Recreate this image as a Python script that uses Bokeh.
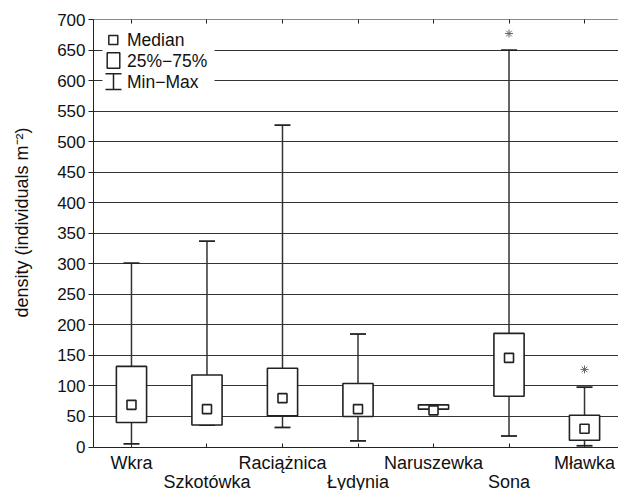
from bokeh.plotting import figure
from bokeh.models import (ColumnDataSource, FixedTicker, LinearAxis, Range1d,
                          BoxAnnotation, Label, LabelSet)
from bokeh.core.properties import value
from bokeh.embed import file_html
from bokeh.resources import INLINE

# ---- data ----
sites = ["Wkra", "Szkotówka", "Raciążnica", "Łydynia", "Naruszewka", "Sona", "Mławka"]
median = [69, 62, 80, 62, 60, 146, 30]
q1 = [40, 36, 51, 50, 62, 83, 11]
q3 = [132, 118, 129, 104, 69, 186, 52]
vmin = [5, 36, 32, 10, 62, 18, 2]
vmax = [301, 337, 527, 185, 69, 650, 98]
outlier_sites = ["Sona", "Mławka"]
outlier_vals = [677, 127]
y_ticks = list(range(0, 701, 50))
y_title = "density (individuals m\u207b\u00b2)"

FONT = "Liberation Sans"
DARK = "#222222"

# ---- layout (pixels) ----
W, H = 618, 490
FRAME_LEFT, FRAME_TOP = 93, 19
AXIS_PX = 427.5                       # pixels between y=0 and y=700
Y_MAX = y_ticks[-1]
FRAME_H = H - FRAME_TOP               # frame runs down to the canvas bottom
Y_MIN = -(FRAME_H - AXIS_PX) * Y_MAX / AXIS_PX   # room below 0 for the staggered labels
TITLE_PAD = "\u00a0" * 13             # shifts the centred y title up to where it sits in the reference

xs = list(range(len(sites)))
row_offset = [-15.5 if i % 2 == 0 else -34.5 for i in xs]
src = ColumnDataSource(dict(x=xs, med=median, q1=q1, q3=q3, mn=vmin, mx=vmax))
lsrc = ColumnDataSource(dict(x=xs, y=[0] * len(xs), name=sites, off=row_offset))
osrc = ColumnDataSource(dict(x=[sites.index(s) for s in outlier_sites], y=outlier_vals))

p = figure(width=W, height=H, output_backend="svg", toolbar_location=None,
           x_range=Range1d(-0.503, 6.45), y_range=Range1d(Y_MIN, Y_MAX),
           min_border_left=FRAME_LEFT, min_border_right=0,
           min_border_top=FRAME_TOP, min_border_bottom=0)
p.background_fill_color = "white"
p.border_fill_color = "white"
p.outline_line_color = None

# grid
p.xgrid.visible = False
p.ygrid.ticker = FixedTicker(ticks=y_ticks)
p.ygrid.grid_line_color = "#333333"
p.ygrid.grid_line_width = 1

# y axis
p.yaxis.ticker = FixedTicker(ticks=y_ticks)
p.yaxis.bounds = (0, Y_MAX)
p.yaxis.major_tick_out = 5
p.yaxis.major_tick_in = 0
p.yaxis.minor_tick_line_color = None
p.yaxis.axis_line_color = DARK
p.yaxis.major_tick_line_color = DARK
p.yaxis.major_label_standoff = 3
p.yaxis.major_label_text_font = FONT
p.yaxis.major_label_text_font_size = "17px"
p.yaxis.major_label_text_color = "#111111"
p.yaxis.axis_label = TITLE_PAD + y_title
p.yaxis.axis_label_text_font = FONT
p.yaxis.axis_label_text_font_size = "18px"
p.yaxis.axis_label_text_font_style = "normal"
p.yaxis.axis_label_text_color = "#111111"
p.yaxis.axis_label_standoff = 22

# bottom axis line at y = 0 with inward ticks at every category
p.xaxis.fixed_location = 0
p.xaxis.ticker = FixedTicker(ticks=[], minor_ticks=xs)
p.xaxis.minor_tick_in = 4
p.xaxis.minor_tick_out = 0
p.xaxis.minor_tick_line_color = DARK
p.xaxis.major_tick_line_color = None
p.xaxis.axis_line_color = DARK

# top axis: gray line with inward ticks
top = LinearAxis(ticker=FixedTicker(ticks=[], minor_ticks=xs),
                 minor_tick_in=4, minor_tick_out=0, minor_tick_line_color=DARK,
                 axis_line_color="#888888", major_tick_line_color=None)
p.add_layout(top, "above")

# whisker stems
p.segment(x0="x", y0="mn", x1="x", y1="q1", source=src, line_color="#333333", line_width=1.5)
p.segment(x0="x", y0="q3", x1="x", y1="mx", source=src, line_color="#333333", line_width=1.5)
# caps
p.scatter(x="x", y="mn", source=src, marker="dash", size=16, line_color=DARK, line_width=1.8)
p.scatter(x="x", y="mx", source=src, marker="dash", size=16, line_color=DARK, line_width=1.8)
# boxes
p.vbar(x="x", width=0.4, bottom="q1", top="q3", source=src,
       fill_color="white", line_color=DARK, line_width=1.6)
# medians
p.scatter(x="x", y="med", source=src, marker="square", size=9,
          fill_color="white", line_color=DARK, line_width=1.6)
# outliers
p.scatter(x="x", y="y", source=osrc, marker="asterisk", size=8,
          line_color="#666666", line_width=1)

# category labels in two staggered rows under the axis
p.add_layout(LabelSet(x="x", y="y", text="name", y_offset="off", source=lsrc,
                      text_font=value(FONT), text_font_size=value("18px"),
                      text_color="#111111", text_align="center", text_baseline="middle"))

# ---- manual legend (screen units relative to the frame, y from frame bottom) ----
def X(px):
    return px - FRAME_LEFT

def Y(py):
    return H - py

def sbox(l, r, t, b, **kw):
    p.add_layout(BoxAnnotation(left=X(l), right=X(r), top=Y(t), bottom=Y(b),
                               left_units="screen", right_units="screen",
                               top_units="screen", bottom_units="screen", **kw))

solid = dict(fill_color=DARK, fill_alpha=1, line_color=None)
framed = dict(fill_color="white", fill_alpha=1, line_color=DARK, line_alpha=1, line_width=1.5)
sbox(102, 214, 24, 95, fill_color="white", fill_alpha=1, line_color=None)
sbox(108.3, 117.3, 35, 44, **framed)          # median icon
sbox(106.7, 119.3, 52.3, 67.7, **framed)      # box icon
sbox(112.25, 113.75, 73.3, 89, **solid)       # whisker stem
sbox(105, 121, 72.5, 74.1, **solid)           # whisker top cap
sbox(105, 121, 88.2, 89.8, **solid)           # whisker bottom cap

for txt, py in [("Median", 39.5), ("25%\u221275%", 60), ("Min\u2212Max", 81)]:
    p.add_layout(Label(x=X(126.5), y=Y(py), x_units="screen", y_units="screen", text=txt,
                       text_font=FONT, text_font_size="17.5px", text_color="#111111",
                       text_baseline="middle", text_align="left"))

open("out.html", "w").write(file_html(p, INLINE))
